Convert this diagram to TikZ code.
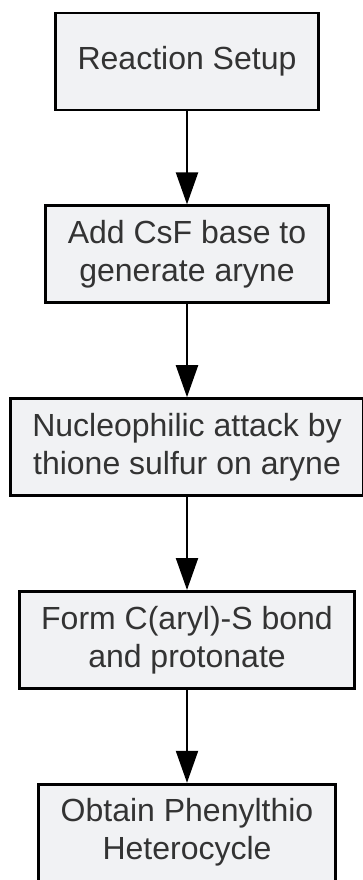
\documentclass[tikz,border=0pt]{standalone}
\usepackage{fontspec}
\setmainfont{Liberation Sans}
\usepackage{xcolor}
\usetikzlibrary{positioning, arrows.meta}
\definecolor{boxfill}{HTML}{F1F2F4}
\definecolor{boxtext}{HTML}{333333}

\begin{document}
\begin{tikzpicture}[
  x=1pt, y=1pt,
  node distance=93pt,
  stepbox/.style={draw=black, line width=2.8pt, fill=boxfill, text=boxtext,
    align=center, minimum height=97pt, inner xsep=22pt,
    font=\fontsize{32}{38}\selectfont},
  flow/.style={line width=2.2pt, -{Triangle[width=22pt, length=32pt]}}
]
\useasboundingbox (0,0) rectangle (363,-880);
\node[stepbox] (setup) at (187,-61.5) {Reaction Setup};
\node[stepbox, below=of setup] (aryne) {Add CsF base to\\generate aryne};
\node[stepbox, below=of aryne] (attack) {Nucleophilic attack by\\thione sulfur on aryne};
\node[stepbox, below=of attack] (bond) {Form C(aryl)-S bond\\and protonate};
\node[stepbox, below=of bond] (product) {Obtain Phenylthio\\Heterocycle};

\draw[flow] (setup) -- (aryne);
\draw[flow] (aryne) -- (attack);
\draw[flow] (attack) -- (bond);
\draw[flow] (bond) -- (product);
\end{tikzpicture}
\end{document}
